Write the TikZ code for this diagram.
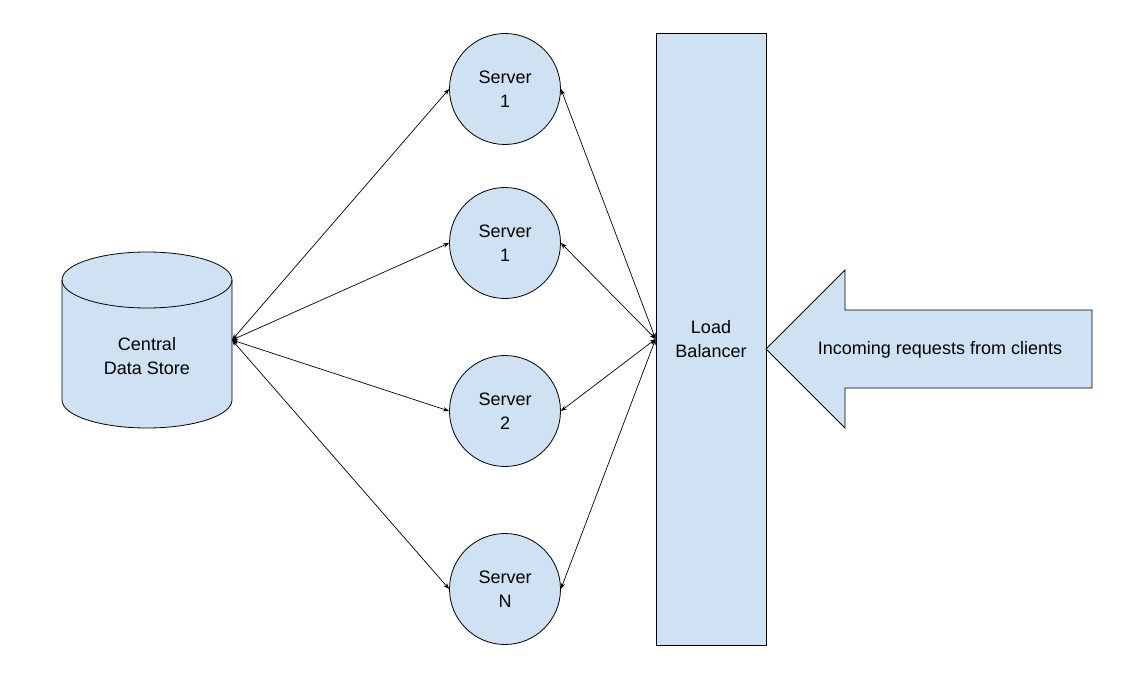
\documentclass[tikz,border=0pt]{standalone}
\usepackage{fontspec}
\setmainfont{Liberation Sans}
\usetikzlibrary{arrows.meta}
\definecolor{boxblue}{HTML}{CFE2F3}
\begin{document}
\begin{tikzpicture}[x=1pt,y=-1pt,
  font=\fontsize{18}{24}\selectfont,
  shapeline/.style={draw=black, line width=0.8pt, fill=boxblue},
  server/.style={shapeline, circle, minimum size=111pt, inner sep=0pt, align=center},
  conn/.style={{Stealth[length=6pt,width=4.5pt]}-{Stealth[length=6pt,width=4.5pt]}, line width=0.7pt}]
\useasboundingbox (0,0) rectangle (1134,698);
% central data store (cylinder)
\path[shapeline] (62,280) -- (62,400) arc[start angle=180, end angle=0, x radius=85, y radius=28]
  -- (232,280) arc[start angle=0, end angle=-180, x radius=85, y radius=28] -- cycle;
\draw[line width=0.8pt] (62,280) arc[start angle=180, end angle=0, x radius=85, y radius=28];
\node[align=center] (store) at (147,356) {Central\\Data Store};
\coordinate (storeE) at (232,340);
% servers
\node[server] (s1) at (505,89) {Server\\1};
\node[server] (s2) at (505,243) {Server\\1};
\node[server] (s3) at (505,411) {Server\\2};
\node[server] (s4) at (505,589) {Server\\N};
% load balancer
\node[shapeline, minimum width=110pt, minimum height=612pt, inner sep=0pt, align=center] (lb) at (711,339) {Load\\Balancer};
% incoming arrow
\path[shapeline] (766,349) -- (845,270) -- (845,310) -- (1092,310) -- (1092,388) -- (845,388) -- (845,428) -- cycle;
\node (req) at (940,350) {Incoming requests from clients};
% connectors
\foreach \s in {s1,s2,s3,s4} {
  \draw[conn] (storeE) -- (\s.west);
  \draw[conn] (lb.west) -- (\s.east);
}
\end{tikzpicture}
\end{document}
